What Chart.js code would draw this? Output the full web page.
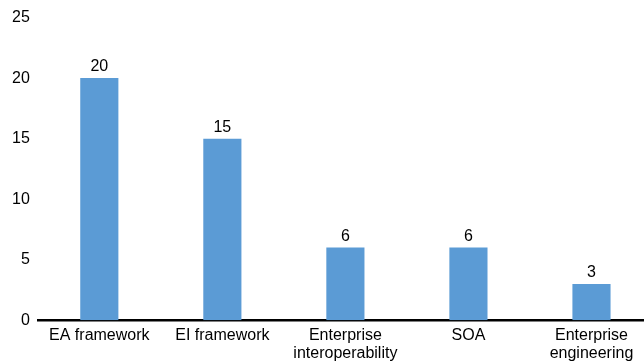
<!DOCTYPE html>
<html>
<head>
<meta charset="utf-8">
<script src="https://cdn.jsdelivr.net/npm/chart.js@4/dist/chart.umd.min.js"></script>
<style>
  html, body { margin: 0; padding: 0; background: #fff; overflow: hidden; }
  #wrap { width: 653px; height: 363px; }
</style>
</head>
<body>
<div id="wrap"><canvas id="chart"></canvas></div>
<script>
// Datos del gráfico
const categories = ['EA framework', 'EI framework', ['Enterprise', 'interoperability'], 'SOA', ['Enterprise', 'engineering']];
const counts = [20, 15, 6, 6, 3];
const yTicks = [0, 5, 10, 15, 20, 25];

const fontFamily = '"Liberation Sans", Arial, sans-serif';

// Etiquetas encima de cada barra
const valueLabels = {
    id: 'valueLabels',
    afterDatasetsDraw(chart) {
        const ctx = chart.ctx;
        const meta = chart.getDatasetMeta(0);
        ctx.save();
        ctx.font = '16px ' + fontFamily;
        ctx.fillStyle = '#000';
        ctx.textAlign = 'center';
        ctx.textBaseline = 'alphabetic';
        meta.data.forEach((bar, i) => {
            ctx.fillText(counts[i], bar.x, bar.y - 7);
        });
        ctx.restore();
    }
};

const ctx = document.getElementById('chart').getContext('2d');
new Chart(ctx, {
    type: 'bar',
    data: {
        labels: categories,
        datasets: [{
            data: counts,
            backgroundColor: '#5b9bd5',
            barPercentage: 0.31,
            categoryPercentage: 1
        }]
    },
    options: {
        responsive: true,
        maintainAspectRatio: false,
        animation: false,
        layout: { padding: { top: 9, left: 4, right: 0, bottom: -6 } },
        plugins: { legend: { display: false }, tooltip: { enabled: false } },
        scales: {
            x: {
                grid: { display: false, drawTicks: false },
                border: { display: true, color: '#000', width: 2.5 },
                ticks: {
                    color: '#000',
                    font: { family: fontFamily, size: 16, lineHeight: 1.15 },
                    padding: 6,
                    maxRotation: 0,
                    autoSkip: false
                }
            },
            y: {
                min: 0,
                max: 25,
                grid: { display: false, drawTicks: false },
                border: { display: false },
                afterBuildTicks(scale) {
                    scale.ticks = yTicks.map(v => ({ value: v }));
                },
                ticks: {
                    color: '#000',
                    font: { family: fontFamily, size: 16 },
                    padding: 8
                }
            }
        }
    },
    plugins: [valueLabels]
});
</script>
</body>
</html>
